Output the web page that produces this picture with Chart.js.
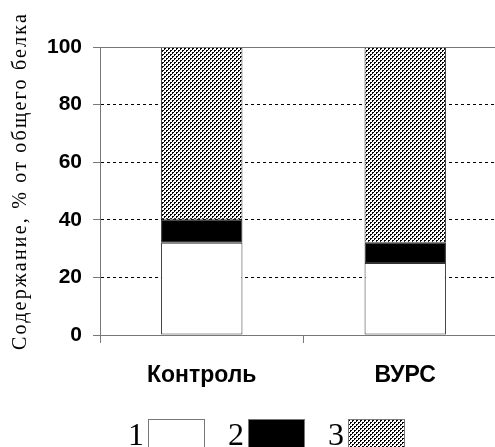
<!DOCTYPE html>
<html>
<head>
<meta charset="utf-8">
<script src="https://cdn.jsdelivr.net/npm/chart.js@4/dist/chart.umd.min.js"></script>
<style>
  html, body { margin: 0; padding: 0; background: #fff; overflow: hidden; }
  canvas { display: block; }
</style>
</head>
<body>
<canvas id="chart" width="510" height="447"></canvas>
<script>
// values
const categories = ['Контроль', 'ВУРС'];
const legendLabels = ['1', '2', '3'];
const series1 = [32, 25];
const series2 = [8, 7];
const series3 = [60, 68];
const yTicks = [0, 20, 40, 60, 80, 100];
const yTitle = 'Содержание, % от общего белка';

// stipple fill for series 3
function makeStipple() {
    const c = document.createElement('canvas');
    c.width = 4; c.height = 4;
    const g = c.getContext('2d');
    g.fillStyle = '#fff';
    g.fillRect(0, 0, 4, 4);
    g.fillStyle = '#000';
    g.fillRect(0, 0, 2, 1);
    g.fillRect(0, 1, 1, 1);
    g.fillRect(2, 2, 2, 1);
    g.fillRect(2, 3, 1, 1);
    return g.createPattern(c, 'repeat');
}

const ctx = document.getElementById('chart').getContext('2d');
const stipple = makeStipple();
const gray = '#777';

const extras = {
    id: 'extras',
    afterDraw(chart) {
        const c = chart.ctx;
        const area = chart.chartArea;
        // top frame line at 100
        c.save();
        c.strokeStyle = gray;
        c.lineWidth = 1;
        c.beginPath();
        c.moveTo(area.left, Math.round(area.top) + 0.5);
        c.lineTo(area.right, Math.round(area.top) + 0.5);
        c.stroke();
        // y title
        c.translate(21, 181);
        c.rotate(-Math.PI / 2);
        c.fillStyle = '#000';
        c.font = '20px "Liberation Serif", "Times New Roman", serif';
        c.letterSpacing = '2.2px';
        c.textAlign = 'center';
        c.textBaseline = 'middle';
        c.fillText(yTitle, 0, 0);
        c.restore();

        // legend: number then box
        const boxX = [148, 248, 348];
        c.save();
        c.font = '32px "Liberation Serif", "Times New Roman", serif';
        c.textAlign = 'right';
        c.textBaseline = 'alphabetic';
        chart.data.datasets.forEach((ds, i) => {
            c.fillStyle = '#000';
            c.fillText(ds.label, boxX[i] - 4, 445);
            c.fillStyle = ds.backgroundColor;
            c.fillRect(boxX[i], 419, 57, 32);
            c.strokeStyle = gray;
            c.lineWidth = 1;
            c.strokeRect(boxX[i] + 0.5, 419.5, 56, 32);
        });
        c.restore();
    }
};

new Chart(ctx, {
    type: 'bar',
    data: {
        labels: categories,
        datasets: [
            { label: legendLabels[0], data: series1, backgroundColor: '#fff' },
            { label: legendLabels[1], data: series2, backgroundColor: '#000' },
            { label: legendLabels[2], data: series3, backgroundColor: stipple }
        ].map(d => Object.assign(d, {
            borderColor: '#333',
            borderWidth: 1,
            borderSkipped: false,
            barPercentage: 0.4,
            categoryPercentage: 1
        }))
    },
    options: {
        responsive: false,
        animation: false,
        devicePixelRatio: 1,
        layout: { padding: { top: 47, left: 0, right: 3, bottom: 0 } },
        plugins: {
            legend: { display: false },
            tooltip: { enabled: false }
        },
        scales: {
            x: {
                stacked: true,
                afterFit(scale) { scale.height = 112; },
                grid: {
                    offset: true,
                    drawOnChartArea: false,
                    drawTicks: true,
                    tickLength: 8,
                    tickColor: gray
                },
                border: { color: gray, width: 1 },
                ticks: {
                    color: '#000',
                    padding: 19,
                    font: { family: '"Liberation Sans", Arial, sans-serif', size: 23, weight: 'bold' }
                }
            },
            y: {
                stacked: true,
                min: 0,
                max: 100,
                afterFit(scale) { scale.width = 100; },
                afterBuildTicks(scale) {
                    scale.ticks = yTicks.map(v => ({ value: v }));
                },
                grid: {
                    color: c => (c.tick && (c.tick.value === 100 || c.tick.value === 0)) ? 'rgba(0,0,0,0)' : '#000',
                    lineWidth: 1,
                    drawTicks: true,
                    tickLength: 7,
                    tickColor: gray,
                    tickBorderDash: []
                },
                border: {
                    color: gray,
                    width: 1,
                    dash: c => (c.type === 'tick' ? [3, 3] : [])
                },
                ticks: {
                    color: '#000',
                    padding: 11,
                    font: { family: '"Liberation Sans", Arial, sans-serif', size: 21, weight: 'bold' }
                }
            }
        }
    },
    plugins: [extras]
});
</script>
</body>
</html>
